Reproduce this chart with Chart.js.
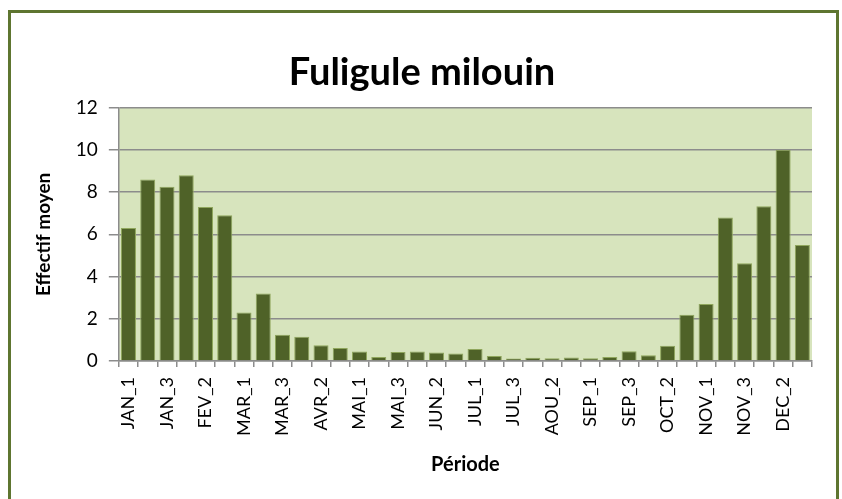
<!DOCTYPE html>
<html>
<head>
<meta charset="utf-8">
<script src="https://cdn.jsdelivr.net/npm/chart.js@4"></script>
<style>
  html, body { margin: 0; padding: 0; background: #fff; }
  #wrap { position: relative; width: 842px; height: 499px; overflow: hidden; }
  #frame { position: absolute; left: 8px; top: 10px; width: 831px; height: 520px; border: 3px solid #5e7530; box-sizing: border-box; }
  canvas { position: absolute; left: 0; top: 0; }
</style>
</head>
<body>
<div id="wrap">
  <div id="frame"></div>
  <canvas id="myChart" width="842" height="499"></canvas>
</div>
<script>
// periods (3 decades per month)
const months = ['JAN', 'FEV', 'MAR', 'AVR', 'MAI', 'JUN', 'JUL', 'AOU', 'SEP', 'OCT', 'NOV', 'DEC'];
const periods = [];
months.forEach(m => { periods.push(m + '_1', m + '_2', m + '_3'); });

// mean counts
const effectif = [
  6.3, 8.6, 8.25, 8.8, 7.3, 6.9,
  2.3, 3.2, 1.25, 1.15, 0.75, 0.62,
  0.45, 0.19, 0.43, 0.46, 0.41, 0.36,
  0.57, 0.24, 0.13, 0.16, 0.14, 0.17,
  0.14, 0.19, 0.47, 0.28, 0.73, 2.2,
  2.7, 6.8, 4.63, 7.33, 10.0, 5.5
];

const yTicks = [0, 2, 4, 6, 8, 10, 12];

const fontFam = 'Lato, "Open Sans", sans-serif';

const plotBg = {
  id: 'plotBg',
  beforeDraw(chart) {
    const { ctx, chartArea } = chart;
    ctx.save();
    ctx.fillStyle = '#d7e4bd';
    ctx.fillRect(chartArea.left, chartArea.top, chartArea.right - chartArea.left, chartArea.bottom - chartArea.top);
    ctx.restore();
  }
};

const ctx = document.getElementById('myChart').getContext('2d');
new Chart(ctx, {
  type: 'bar',
  data: {
    labels: periods,
    datasets: [{
      data: effectif,
      backgroundColor: '#4f6228',
      borderColor: '#8fa65c',
      borderWidth: 1,
      categoryPercentage: 1.0,
      barPercentage: 0.78
    }]
  },
  options: {
    responsive: false,
    animation: false,
    layout: { padding: { left: 32, right: 30, top: 50, bottom: 22 } },
    plugins: {
      legend: { display: false },
      tooltip: { enabled: false },
      title: {
        display: true,
        text: 'Fuligule milouin',
        color: '#000',
        font: { family: fontFam, size: 38, weight: 'bold' },
        padding: { top: 0, bottom: 12 }
      }
    },
    scales: {
      x: {
        offset: true,
        grid: {
          offset: true,
          drawOnChartArea: false,
          drawTicks: true,
          tickLength: 6,
          color: '#8c8c8c',
          lineWidth: 1.5
        },
        border: { color: '#8c8c8c', width: 1.5 },
        ticks: {
          autoSkip: false,
          maxRotation: 90,
          minRotation: 90,
          color: '#000',
          font: { family: fontFam, size: 18 },
          padding: 10,
          callback: (v, i) => (i % 2 === 0 ? periods[i] : '')
        },
        title: {
          display: true,
          text: 'Période',
          color: '#000',
          font: { family: fontFam, size: 20, weight: 'bold' },
          padding: { top: 7, bottom: 0 }
        }
      },
      y: {
        min: 0,
        max: 12,
        afterBuildTicks: axis => { axis.ticks = yTicks.map(v => ({ value: v })); },
        grid: {
          color: '#8c8c8c',
          lineWidth: 1.5,
          tickLength: 10
        },
        border: { color: '#8c8c8c', width: 1.5 },
        ticks: {
          color: '#000',
          font: { family: fontFam, size: 19 },
          padding: 11
        },
        title: {
          display: true,
          text: 'Effectif moyen',
          color: '#000',
          font: { family: fontFam, size: 19, weight: 'bold' },
          padding: { top: 0, bottom: 10 }
        }
      }
    }
  },
  plugins: [plotBg]
});
</script>
</body>
</html>
